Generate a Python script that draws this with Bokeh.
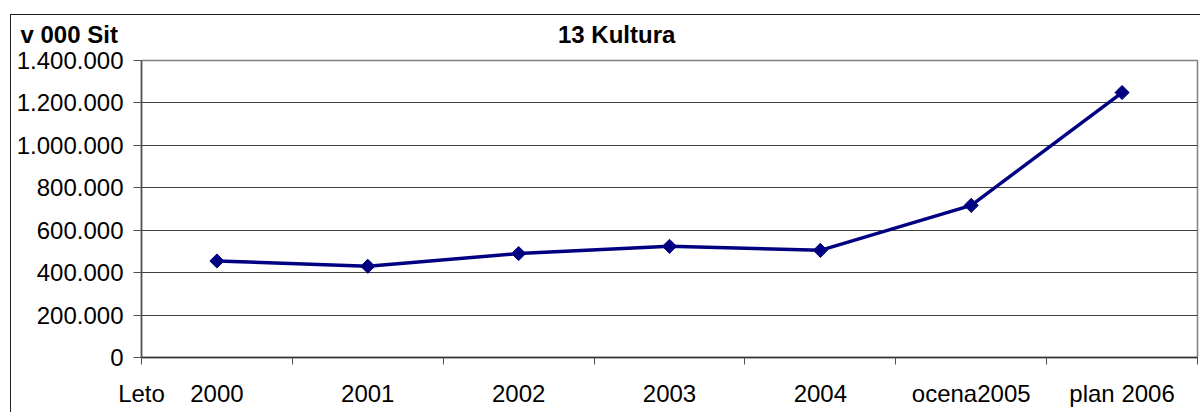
import math
from bokeh.plotting import figure
from bokeh.models import (Range1d, FixedTicker, CustomJSTickFormatter, Title,
                          InlineStyleSheet)
from bokeh.embed import file_html
from bokeh.resources import INLINE

categories = ["2000", "2001", "2002", "2003", "2004", "ocena2005", "plan 2006"]
values = [455000, 430000, 490000, 524000, 505000, 717000, 1249000]
y_ticks = [0, 200000, 400000, 600000, 800000, 1000000, 1200000, 1400000]
x_caption = "Leto"
y_caption = "v 000 Sit"
title_text = "13 Kultura"

FONT = "Liberation Sans"
W, H = 1200, 412

n = len(categories)
centers = [i + 0.5 for i in range(n)]   # category slot centres
edges = list(range(n + 1))              # category slot boundaries

p = figure(x_range=Range1d(0, n), y_range=Range1d(0, 1400000),
           width=W, height=H, output_backend="svg", toolbar_location=None,
           min_border_left=141, min_border_top=60, min_border_right=3,
           min_border_bottom=55)
# y caption and chart title share the top row
p.title = Title(text=y_caption + "\u00a0" * 66 + title_text, align="left",
                offset=-121, standoff=25,
                text_font=FONT, text_font_style="bold", text_font_size="24px",
                text_color="black")
p.background_fill_color = "white"
p.border_fill_color = "white"
p.outline_line_color = "#808080"
p.outline_line_width = 1.5
p.xgrid.grid_line_color = None
p.ygrid.ticker = FixedTicker(ticks=y_ticks)
p.ygrid.grid_line_color = "#404040"
p.ygrid.grid_line_width = 1

# outer chart border (left and top edges visible in the window)
p.stylesheets = [InlineStyleSheet(css="""
:host { position: relative; }
:host::after {
  content: ""; position: absolute; left: 10px; top: 14px; right: 0; bottom: 0;
  border-left: 1.5px solid #202020; border-top: 1.5px solid #202020;
  pointer-events: none; z-index: 10;
}
""")]

# y axis
ya = p.yaxis[0]
ya.ticker = FixedTicker(ticks=y_ticks)
ya.formatter = CustomJSTickFormatter(code="""
return tick.toFixed(0).replace(/\\B(?=(\\d{3})+(?!\\d))/g, ".");
""")
ya.axis_line_color = "#505050"
ya.axis_line_width = 1.5
ya.major_tick_line_color = "#505050"
ya.major_tick_out = 8
ya.major_tick_in = 0
ya.minor_tick_line_color = None
ya.major_label_standoff = 10
ya.major_label_text_font = FONT
ya.major_label_text_font_size = "24px"
ya.major_label_text_color = "black"

# x axis: labels at slot centres (caption at the axis start), ticks at slot boundaries
xa = p.xaxis[0]
xa.ticker = FixedTicker(ticks=[0] + centers, minor_ticks=edges)
xa.formatter = CustomJSTickFormatter(args=dict(labels=categories, caption=x_caption),
                                     code="""
if (tick < 0.25) { return caption; }
return labels[Math.floor(tick)];
""")
xa.axis_line_color = "#303030"
xa.axis_line_width = 1.5
xa.major_tick_line_color = None
xa.major_tick_out = 0
xa.major_tick_in = 0
xa.minor_tick_line_color = "#505050"
xa.minor_tick_out = 7
xa.minor_tick_in = 0
xa.major_label_standoff = 15
xa.major_label_text_font = FONT
xa.major_label_text_font_size = "24px"
xa.major_label_text_color = "black"

# data
p.line(centers, values, line_color="#000080", line_width=3.5)
p.scatter(centers, values, marker="square", size=10, angle=math.pi / 4,
          fill_color="#000080", line_color="#000080")

open("out.html", "w").write(file_html(p, INLINE))
